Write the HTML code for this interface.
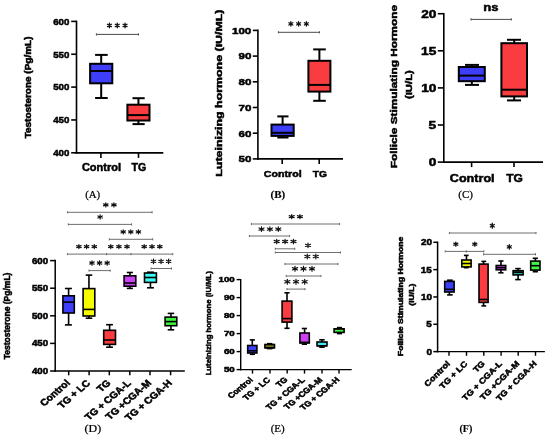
<!DOCTYPE html>
<html><head><meta charset="utf-8"><style>
html,body{margin:0;padding:0;background:#fff;}
body{width:550px;height:439px;overflow:hidden;}
svg{display:block;will-change:transform;filter:blur(0.3px);}
text{fill:#000;stroke:#000;}
.sb{stroke-width:0.5px;}
.fr{stroke-width:0.22px;}
.fb{stroke-width:0.15px;}
</style></head><body>
<svg width="550" height="439" viewBox="0 0 550 439">
<rect width="550" height="439" fill="#fff"/>
<line x1="76.5" y1="20.6" x2="76.5" y2="153.7" stroke="#000" stroke-width="1.6" stroke-linecap="butt"/>
<line x1="71.2" y1="21.4" x2="76.5" y2="21.4" stroke="#000" stroke-width="1.6" stroke-linecap="butt"/>
<line x1="71.2" y1="54.25" x2="76.5" y2="54.25" stroke="#000" stroke-width="1.6" stroke-linecap="butt"/>
<line x1="71.2" y1="87.1" x2="76.5" y2="87.1" stroke="#000" stroke-width="1.6" stroke-linecap="butt"/>
<line x1="71.2" y1="119.95" x2="76.5" y2="119.95" stroke="#000" stroke-width="1.6" stroke-linecap="butt"/>
<line x1="71.2" y1="152.8" x2="76.5" y2="152.8" stroke="#000" stroke-width="1.6" stroke-linecap="butt"/>
<line x1="75.7" y1="152.9" x2="163.3" y2="152.9" stroke="#000" stroke-width="1.6" stroke-linecap="butt"/>
<line x1="100.9" y1="152.9" x2="100.9" y2="157.9" stroke="#000" stroke-width="1.6" stroke-linecap="butt"/>
<line x1="138.5" y1="152.9" x2="138.5" y2="157.9" stroke="#000" stroke-width="1.6" stroke-linecap="butt"/>
<text class="sb" transform="translate(53.2 24.65) scale(1.0205 1)" font-family="Liberation Sans" font-weight="bold" font-size="9.54">600</text>
<text class="sb" transform="translate(53.2 57.5) scale(1.0205 1)" font-family="Liberation Sans" font-weight="bold" font-size="9.54">550</text>
<text class="sb" transform="translate(53.2 90.35) scale(1.0205 1)" font-family="Liberation Sans" font-weight="bold" font-size="9.54">500</text>
<text class="sb" transform="translate(53.2 123.2) scale(1.0205 1)" font-family="Liberation Sans" font-weight="bold" font-size="9.54">450</text>
<text class="sb" transform="translate(53.2 156.05) scale(1.0205 1)" font-family="Liberation Sans" font-weight="bold" font-size="9.54">400</text>
<line x1="101.2" y1="54.9" x2="101.2" y2="63.8" stroke="#000" stroke-width="2" stroke-linecap="butt"/>
<line x1="101.2" y1="83.3" x2="101.2" y2="98" stroke="#000" stroke-width="2" stroke-linecap="butt"/>
<line x1="95.1" y1="54.9" x2="107.7" y2="54.9" stroke="#000" stroke-width="2" stroke-linecap="butt"/>
<line x1="95.1" y1="98" x2="107.7" y2="98" stroke="#000" stroke-width="2" stroke-linecap="butt"/>
<rect x="90.1" y="63.8" width="22.2" height="19.5" fill="#3e3ef8" stroke="#000" stroke-width="2"/>
<line x1="90.1" y1="71" x2="112.3" y2="71" stroke="#000" stroke-width="2" stroke-linecap="butt"/>
<line x1="138.45" y1="98.2" x2="138.45" y2="104.7" stroke="#000" stroke-width="2" stroke-linecap="butt"/>
<line x1="138.45" y1="120.5" x2="138.45" y2="124.1" stroke="#000" stroke-width="2" stroke-linecap="butt"/>
<line x1="132.5" y1="98.2" x2="144.7" y2="98.2" stroke="#000" stroke-width="2" stroke-linecap="butt"/>
<line x1="132.5" y1="124.1" x2="144.7" y2="124.1" stroke="#000" stroke-width="2" stroke-linecap="butt"/>
<rect x="127.4" y="104.7" width="22.1" height="15.8" fill="#f83c40" stroke="#000" stroke-width="2"/>
<line x1="127.4" y1="115.1" x2="149.5" y2="115.1" stroke="#000" stroke-width="2" stroke-linecap="butt"/>
<text class="sb" transform="translate(81.91 170.65) scale(1.0505 1)" font-family="Liberation Sans" font-weight="bold" font-size="10.47">Control</text>
<text class="sb" transform="translate(131.44 170.65) scale(1.0166 1)" font-family="Liberation Sans" font-weight="bold" font-size="10.47">TG</text>
<line x1="96.4" y1="34.4" x2="138.5" y2="34.4" stroke="#4a4a4a" stroke-width="1" stroke-linecap="butt"/>
<line x1="96.4" y1="33.3" x2="96.4" y2="35.5" stroke="#4a4a4a" stroke-width="1" stroke-linecap="butt"/>
<line x1="138.5" y1="33.3" x2="138.5" y2="35.5" stroke="#4a4a4a" stroke-width="1" stroke-linecap="butt"/>
<path d="M109.45 23.05V27.75M107.45 24.22L111.45 26.57M107.45 26.57L111.45 24.22" stroke="#111" stroke-width="1.3" stroke-linecap="round" fill="none"/>
<path d="M117.25 23.05V27.75M115.25 24.22L119.25 26.57M115.25 26.57L119.25 24.22" stroke="#111" stroke-width="1.3" stroke-linecap="round" fill="none"/>
<path d="M125.05 23.05V27.75M123.05 24.22L127.05 26.57M123.05 26.57L127.05 24.22" stroke="#111" stroke-width="1.3" stroke-linecap="round" fill="none"/>
<text class="sb" transform="translate(31.05 138.35) rotate(-90) scale(1.2259 1)" font-family="Liberation Sans" font-weight="bold" font-size="8.15">Testosterone (Pg/mL)</text>
<text class="fr" transform="translate(85.16 197.65) scale(1.0149 1)" font-family="Liberation Serif" font-weight="normal" font-size="10.69">(A)</text>
<line x1="257.9" y1="29.6" x2="257.9" y2="159.7" stroke="#000" stroke-width="1.6" stroke-linecap="butt"/>
<line x1="252.8" y1="30.4" x2="257.9" y2="30.4" stroke="#000" stroke-width="1.6" stroke-linecap="butt"/>
<line x1="252.8" y1="56.1" x2="257.9" y2="56.1" stroke="#000" stroke-width="1.6" stroke-linecap="butt"/>
<line x1="252.8" y1="81.8" x2="257.9" y2="81.8" stroke="#000" stroke-width="1.6" stroke-linecap="butt"/>
<line x1="252.8" y1="107.5" x2="257.9" y2="107.5" stroke="#000" stroke-width="1.6" stroke-linecap="butt"/>
<line x1="252.8" y1="133.2" x2="257.9" y2="133.2" stroke="#000" stroke-width="1.6" stroke-linecap="butt"/>
<line x1="252.8" y1="158.9" x2="257.9" y2="158.9" stroke="#000" stroke-width="1.6" stroke-linecap="butt"/>
<line x1="257.1" y1="158.9" x2="343" y2="158.9" stroke="#000" stroke-width="1.6" stroke-linecap="butt"/>
<line x1="282.2" y1="158.9" x2="282.2" y2="163.9" stroke="#000" stroke-width="1.6" stroke-linecap="butt"/>
<line x1="319.2" y1="158.9" x2="319.2" y2="163.9" stroke="#000" stroke-width="1.6" stroke-linecap="butt"/>
<text class="sb" transform="translate(231.98 33.75) scale(1.1888 1)" font-family="Liberation Sans" font-weight="bold" font-size="9.75">100</text>
<text class="sb" transform="translate(238.44 59.45) scale(1.1888 1)" font-family="Liberation Sans" font-weight="bold" font-size="9.75">90</text>
<text class="sb" transform="translate(238.44 85.15) scale(1.1888 1)" font-family="Liberation Sans" font-weight="bold" font-size="9.75">80</text>
<text class="sb" transform="translate(238.44 110.85) scale(1.1888 1)" font-family="Liberation Sans" font-weight="bold" font-size="9.75">70</text>
<text class="sb" transform="translate(238.44 136.55) scale(1.1888 1)" font-family="Liberation Sans" font-weight="bold" font-size="9.75">60</text>
<text class="sb" transform="translate(238.44 162.25) scale(1.1888 1)" font-family="Liberation Sans" font-weight="bold" font-size="9.75">50</text>
<line x1="282.6" y1="116.4" x2="282.6" y2="124.6" stroke="#000" stroke-width="2" stroke-linecap="butt"/>
<line x1="282.6" y1="135.9" x2="282.6" y2="137.5" stroke="#000" stroke-width="2" stroke-linecap="butt"/>
<line x1="277.3" y1="116.4" x2="288.5" y2="116.4" stroke="#000" stroke-width="2" stroke-linecap="butt"/>
<line x1="277.3" y1="137.5" x2="288.5" y2="137.5" stroke="#000" stroke-width="2" stroke-linecap="butt"/>
<rect x="271.5" y="124.6" width="22.2" height="11.3" fill="#3e3ef8" stroke="#000" stroke-width="2"/>
<line x1="271.5" y1="132.8" x2="293.7" y2="132.8" stroke="#000" stroke-width="2" stroke-linecap="butt"/>
<line x1="319.4" y1="49.4" x2="319.4" y2="60.8" stroke="#000" stroke-width="2" stroke-linecap="butt"/>
<line x1="319.4" y1="91.6" x2="319.4" y2="100.8" stroke="#000" stroke-width="2" stroke-linecap="butt"/>
<line x1="313.2" y1="49.4" x2="325.8" y2="49.4" stroke="#000" stroke-width="2" stroke-linecap="butt"/>
<line x1="313.2" y1="100.8" x2="325.8" y2="100.8" stroke="#000" stroke-width="2" stroke-linecap="butt"/>
<rect x="308.4" y="60.8" width="22" height="30.8" fill="#f83c40" stroke="#000" stroke-width="2"/>
<line x1="308.4" y1="84.9" x2="330.4" y2="84.9" stroke="#000" stroke-width="2" stroke-linecap="butt"/>
<text class="sb" transform="translate(263.82 176.85) scale(1.0800 1)" font-family="Liberation Sans" font-weight="bold" font-size="9.89">Control</text>
<text class="sb" transform="translate(312.75 176.85) scale(1.0456 1)" font-family="Liberation Sans" font-weight="bold" font-size="9.89">TG</text>
<line x1="278.4" y1="32.3" x2="319.4" y2="32.3" stroke="#4a4a4a" stroke-width="1" stroke-linecap="butt"/>
<line x1="278.4" y1="31.2" x2="278.4" y2="33.4" stroke="#4a4a4a" stroke-width="1" stroke-linecap="butt"/>
<line x1="319.4" y1="31.2" x2="319.4" y2="33.4" stroke="#4a4a4a" stroke-width="1" stroke-linecap="butt"/>
<path d="M290.85 21.65V26.05M288.85 22.75L292.85 24.95M288.85 24.95L292.85 22.75" stroke="#111" stroke-width="1.3" stroke-linecap="round" fill="none"/>
<path d="M298.6 21.65V26.05M296.6 22.75L300.6 24.95M296.6 24.95L300.6 22.75" stroke="#111" stroke-width="1.3" stroke-linecap="round" fill="none"/>
<path d="M306.35 21.65V26.05M304.35 22.75L308.35 24.95M304.35 24.95L308.35 22.75" stroke="#111" stroke-width="1.3" stroke-linecap="round" fill="none"/>
<text class="sb" transform="translate(222.25 176.69) rotate(-90) scale(1.3749 1)" font-family="Liberation Sans" font-weight="bold" font-size="9.02">Luteinizing hormone (IU/ML)</text>
<text class="fb" transform="translate(270.55 197.55) scale(1.0758 1)" font-family="Liberation Serif" font-weight="bold" font-size="10.23">(B)</text>
<line x1="443.8" y1="12.9" x2="443.8" y2="162.9" stroke="#000" stroke-width="1.6" stroke-linecap="butt"/>
<line x1="437.8" y1="13.7" x2="443.8" y2="13.7" stroke="#000" stroke-width="1.6" stroke-linecap="butt"/>
<line x1="437.8" y1="50.8" x2="443.8" y2="50.8" stroke="#000" stroke-width="1.6" stroke-linecap="butt"/>
<line x1="437.8" y1="87.9" x2="443.8" y2="87.9" stroke="#000" stroke-width="1.6" stroke-linecap="butt"/>
<line x1="437.8" y1="125" x2="443.8" y2="125" stroke="#000" stroke-width="1.6" stroke-linecap="butt"/>
<line x1="437.8" y1="162.1" x2="443.8" y2="162.1" stroke="#000" stroke-width="1.6" stroke-linecap="butt"/>
<line x1="443" y1="162.1" x2="543" y2="162.1" stroke="#000" stroke-width="1.6" stroke-linecap="butt"/>
<line x1="471.6" y1="162.1" x2="471.6" y2="167.1" stroke="#000" stroke-width="1.6" stroke-linecap="butt"/>
<line x1="514" y1="162.1" x2="514" y2="167.1" stroke="#000" stroke-width="1.6" stroke-linecap="butt"/>
<text class="sb" transform="translate(421.19 17.74) scale(1.2921 1)" font-family="Liberation Sans" font-weight="bold" font-size="10.6">20</text>
<text class="sb" transform="translate(421.02 54.84) scale(1.2921 1)" font-family="Liberation Sans" font-weight="bold" font-size="10.6">15</text>
<text class="sb" transform="translate(421.19 91.94) scale(1.2921 1)" font-family="Liberation Sans" font-weight="bold" font-size="10.6">10</text>
<text class="sb" transform="translate(428.62 129.04) scale(1.2921 1)" font-family="Liberation Sans" font-weight="bold" font-size="10.6">5</text>
<text class="sb" transform="translate(428.8 166.14) scale(1.2921 1)" font-family="Liberation Sans" font-weight="bold" font-size="10.6">0</text>
<line x1="471.8" y1="64.9" x2="471.8" y2="67" stroke="#000" stroke-width="2" stroke-linecap="butt"/>
<line x1="471.8" y1="81.2" x2="471.8" y2="84.9" stroke="#000" stroke-width="2" stroke-linecap="butt"/>
<line x1="465" y1="64.9" x2="479" y2="64.9" stroke="#000" stroke-width="2" stroke-linecap="butt"/>
<line x1="465" y1="84.9" x2="479" y2="84.9" stroke="#000" stroke-width="2" stroke-linecap="butt"/>
<rect x="458.8" y="67" width="26" height="14.2" fill="#3e3ef8" stroke="#000" stroke-width="2"/>
<line x1="458.8" y1="75.6" x2="484.8" y2="75.6" stroke="#000" stroke-width="2" stroke-linecap="butt"/>
<line x1="514.2" y1="39.8" x2="514.2" y2="43.2" stroke="#000" stroke-width="2" stroke-linecap="butt"/>
<line x1="514.2" y1="96.4" x2="514.2" y2="100.4" stroke="#000" stroke-width="2" stroke-linecap="butt"/>
<line x1="507" y1="39.8" x2="521" y2="39.8" stroke="#000" stroke-width="2" stroke-linecap="butt"/>
<line x1="507" y1="100.4" x2="521" y2="100.4" stroke="#000" stroke-width="2" stroke-linecap="butt"/>
<rect x="501.4" y="43.2" width="25.6" height="53.2" fill="#f83c40" stroke="#000" stroke-width="2"/>
<line x1="501.4" y1="89.7" x2="527" y2="89.7" stroke="#000" stroke-width="2" stroke-linecap="butt"/>
<text class="sb" transform="translate(449.85 181.85) scale(1.1548 1)" font-family="Liberation Sans" font-weight="bold" font-size="10.91">Control</text>
<text class="sb" transform="translate(506.13 181.85) scale(1.1014 1)" font-family="Liberation Sans" font-weight="bold" font-size="10.91">TG</text>
<line x1="471" y1="19.4" x2="511.3" y2="19.4" stroke="#4a4a4a" stroke-width="1" stroke-linecap="butt"/>
<line x1="471" y1="18.3" x2="471" y2="20.5" stroke="#4a4a4a" stroke-width="1" stroke-linecap="butt"/>
<line x1="511.3" y1="18.3" x2="511.3" y2="20.5" stroke="#4a4a4a" stroke-width="1" stroke-linecap="butt"/>
<text class="sb" transform="translate(483.3 10.73) scale(1.1218 1)" font-family="Liberation Sans" font-weight="bold" font-size="11.69">ns</text>
<text class="sb" transform="translate(396.65 168.25) rotate(-90) scale(1.2498 1)" font-family="Liberation Sans" font-weight="bold" font-size="9.45">Follicle Stimulating Hormone</text>
<text class="sb" transform="translate(411.65 99.01) rotate(-90) scale(1.2511 1)" font-family="Liberation Sans" font-weight="bold" font-size="9.02">(IU/L)</text>
<text class="fr" transform="translate(458.25 197.55) scale(1.0446 1)" font-family="Liberation Serif" font-weight="normal" font-size="10.53">(C)</text>
<line x1="55.2" y1="259.85" x2="55.2" y2="371.65" stroke="#000" stroke-width="1.5" stroke-linecap="butt"/>
<line x1="50.1" y1="260.6" x2="55.2" y2="260.6" stroke="#000" stroke-width="1.5" stroke-linecap="butt"/>
<line x1="50.1" y1="288.2" x2="55.2" y2="288.2" stroke="#000" stroke-width="1.5" stroke-linecap="butt"/>
<line x1="50.1" y1="315.8" x2="55.2" y2="315.8" stroke="#000" stroke-width="1.5" stroke-linecap="butt"/>
<line x1="50.1" y1="343.4" x2="55.2" y2="343.4" stroke="#000" stroke-width="1.5" stroke-linecap="butt"/>
<line x1="50.1" y1="371" x2="55.2" y2="371" stroke="#000" stroke-width="1.5" stroke-linecap="butt"/>
<line x1="54.45" y1="370.9" x2="184.8" y2="370.9" stroke="#000" stroke-width="1.5" stroke-linecap="butt"/>
<line x1="68.7" y1="370.9" x2="68.7" y2="375.3" stroke="#000" stroke-width="1.5" stroke-linecap="butt"/>
<line x1="89.1" y1="370.9" x2="89.1" y2="375.3" stroke="#000" stroke-width="1.5" stroke-linecap="butt"/>
<line x1="109.3" y1="370.9" x2="109.3" y2="375.3" stroke="#000" stroke-width="1.5" stroke-linecap="butt"/>
<line x1="129.8" y1="370.9" x2="129.8" y2="375.3" stroke="#000" stroke-width="1.5" stroke-linecap="butt"/>
<line x1="150" y1="370.9" x2="150" y2="375.3" stroke="#000" stroke-width="1.5" stroke-linecap="butt"/>
<line x1="170.6" y1="370.9" x2="170.6" y2="375.3" stroke="#000" stroke-width="1.5" stroke-linecap="butt"/>
<text class="sb" transform="translate(31.96 263.67) scale(1.1441 1)" font-family="Liberation Sans" font-weight="bold" font-size="8.48">600</text>
<text class="sb" transform="translate(31.96 291.27) scale(1.1441 1)" font-family="Liberation Sans" font-weight="bold" font-size="8.48">550</text>
<text class="sb" transform="translate(31.96 318.87) scale(1.1441 1)" font-family="Liberation Sans" font-weight="bold" font-size="8.48">500</text>
<text class="sb" transform="translate(31.96 346.47) scale(1.1441 1)" font-family="Liberation Sans" font-weight="bold" font-size="8.48">450</text>
<text class="sb" transform="translate(31.96 374.07) scale(1.1441 1)" font-family="Liberation Sans" font-weight="bold" font-size="8.48">400</text>
<line x1="68.6" y1="288.5" x2="68.6" y2="295.8" stroke="#000" stroke-width="1.6" stroke-linecap="butt"/>
<line x1="68.6" y1="313" x2="68.6" y2="324.9" stroke="#000" stroke-width="1.6" stroke-linecap="butt"/>
<line x1="64.9" y1="288.5" x2="71.9" y2="288.5" stroke="#000" stroke-width="1.6" stroke-linecap="butt"/>
<line x1="64.9" y1="324.9" x2="71.9" y2="324.9" stroke="#000" stroke-width="1.6" stroke-linecap="butt"/>
<rect x="62.9" y="295.8" width="11.4" height="17.2" fill="#3e3ef8" stroke="#000" stroke-width="1.6"/>
<line x1="62.9" y1="302.1" x2="74.3" y2="302.1" stroke="#000" stroke-width="1.6" stroke-linecap="butt"/>
<line x1="88.95" y1="275.1" x2="88.95" y2="288.6" stroke="#000" stroke-width="1.6" stroke-linecap="butt"/>
<line x1="88.95" y1="316" x2="88.95" y2="318.2" stroke="#000" stroke-width="1.6" stroke-linecap="butt"/>
<line x1="85.7" y1="275.1" x2="92.3" y2="275.1" stroke="#000" stroke-width="1.6" stroke-linecap="butt"/>
<line x1="85.7" y1="318.2" x2="92.3" y2="318.2" stroke="#000" stroke-width="1.6" stroke-linecap="butt"/>
<rect x="83.1" y="288.6" width="11.7" height="27.4" fill="#f6fc00" stroke="#000" stroke-width="1.6"/>
<line x1="83.1" y1="309.4" x2="94.8" y2="309.4" stroke="#000" stroke-width="1.6" stroke-linecap="butt"/>
<line x1="109.6" y1="324.7" x2="109.6" y2="330.3" stroke="#000" stroke-width="1.6" stroke-linecap="butt"/>
<line x1="109.6" y1="344.4" x2="109.6" y2="347.2" stroke="#000" stroke-width="1.6" stroke-linecap="butt"/>
<line x1="106.1" y1="324.7" x2="112.9" y2="324.7" stroke="#000" stroke-width="1.6" stroke-linecap="butt"/>
<line x1="106.1" y1="347.2" x2="112.9" y2="347.2" stroke="#000" stroke-width="1.6" stroke-linecap="butt"/>
<rect x="103.7" y="330.3" width="11.8" height="14.1" fill="#f83c40" stroke="#000" stroke-width="1.6"/>
<line x1="103.7" y1="340" x2="115.5" y2="340" stroke="#000" stroke-width="1.6" stroke-linecap="butt"/>
<line x1="129.95" y1="272.5" x2="129.95" y2="275.8" stroke="#000" stroke-width="1.6" stroke-linecap="butt"/>
<line x1="129.95" y1="286.2" x2="129.95" y2="288.4" stroke="#000" stroke-width="1.6" stroke-linecap="butt"/>
<line x1="126.8" y1="272.5" x2="132.9" y2="272.5" stroke="#000" stroke-width="1.6" stroke-linecap="butt"/>
<line x1="126.8" y1="288.4" x2="132.9" y2="288.4" stroke="#000" stroke-width="1.6" stroke-linecap="butt"/>
<rect x="124.1" y="275.8" width="11.7" height="10.4" fill="#cc42f2" stroke="#000" stroke-width="1.6"/>
<line x1="124.1" y1="283" x2="135.8" y2="283" stroke="#000" stroke-width="1.6" stroke-linecap="butt"/>
<line x1="150.45" y1="282.4" x2="150.45" y2="287.8" stroke="#000" stroke-width="1.6" stroke-linecap="butt"/>
<line x1="147" y1="272.2" x2="153.9" y2="272.2" stroke="#000" stroke-width="1.6" stroke-linecap="butt"/>
<line x1="147" y1="287.8" x2="153.9" y2="287.8" stroke="#000" stroke-width="1.6" stroke-linecap="butt"/>
<rect x="144.5" y="273" width="11.9" height="9.4" fill="#40fcf6" stroke="#000" stroke-width="1.6"/>
<line x1="144.5" y1="277.5" x2="156.4" y2="277.5" stroke="#000" stroke-width="1.6" stroke-linecap="butt"/>
<line x1="170.95" y1="313.4" x2="170.95" y2="317.1" stroke="#000" stroke-width="1.6" stroke-linecap="butt"/>
<line x1="170.95" y1="325.7" x2="170.95" y2="329.8" stroke="#000" stroke-width="1.6" stroke-linecap="butt"/>
<line x1="167.7" y1="313.4" x2="174.2" y2="313.4" stroke="#000" stroke-width="1.6" stroke-linecap="butt"/>
<line x1="167.7" y1="329.8" x2="174.2" y2="329.8" stroke="#000" stroke-width="1.6" stroke-linecap="butt"/>
<rect x="165.1" y="317.1" width="11.7" height="8.6" fill="#40f440" stroke="#000" stroke-width="1.6"/>
<line x1="165.1" y1="321.6" x2="176.8" y2="321.6" stroke="#000" stroke-width="1.6" stroke-linecap="butt"/>
<line x1="67.6" y1="212.3" x2="152.1" y2="212.3" stroke="#5e5e5e" stroke-width="0.9" stroke-linecap="butt"/>
<line x1="67.6" y1="211.2" x2="67.6" y2="213.4" stroke="#5e5e5e" stroke-width="0.9" stroke-linecap="butt"/>
<line x1="152.1" y1="211.2" x2="152.1" y2="213.4" stroke="#5e5e5e" stroke-width="0.9" stroke-linecap="butt"/>
<path d="M105.8 202.9V206.9M103.6 203.9L108 205.9M103.6 205.9L108 203.9" stroke="#111" stroke-width="1.2" stroke-linecap="round" fill="none"/>
<path d="M113.9 202.9V206.9M111.7 203.9L116.1 205.9M111.7 205.9L116.1 203.9" stroke="#111" stroke-width="1.2" stroke-linecap="round" fill="none"/>
<line x1="68.3" y1="224.4" x2="131.6" y2="224.4" stroke="#5e5e5e" stroke-width="0.9" stroke-linecap="butt"/>
<line x1="68.3" y1="223.3" x2="68.3" y2="225.5" stroke="#5e5e5e" stroke-width="0.9" stroke-linecap="butt"/>
<line x1="131.6" y1="223.3" x2="131.6" y2="225.5" stroke="#5e5e5e" stroke-width="0.9" stroke-linecap="butt"/>
<path d="M100.15 214.9V219.1M97.95 215.95L102.35 218.05M97.95 218.05L102.35 215.95" stroke="#111" stroke-width="1.2" stroke-linecap="round" fill="none"/>
<line x1="109.3" y1="239.3" x2="152.7" y2="239.3" stroke="#5e5e5e" stroke-width="0.9" stroke-linecap="butt"/>
<line x1="109.3" y1="238.2" x2="109.3" y2="240.4" stroke="#5e5e5e" stroke-width="0.9" stroke-linecap="butt"/>
<line x1="152.7" y1="238.2" x2="152.7" y2="240.4" stroke="#5e5e5e" stroke-width="0.9" stroke-linecap="butt"/>
<path d="M123.2 229.8V234M121 230.85L125.4 232.95M121 232.95L125.4 230.85" stroke="#111" stroke-width="1.2" stroke-linecap="round" fill="none"/>
<path d="M130.8 229.8V234M128.6 230.85L133 232.95M128.6 232.95L133 230.85" stroke="#111" stroke-width="1.2" stroke-linecap="round" fill="none"/>
<path d="M138.4 229.8V234M136.2 230.85L140.6 232.95M136.2 232.95L140.6 230.85" stroke="#111" stroke-width="1.2" stroke-linecap="round" fill="none"/>
<line x1="67.4" y1="254.1" x2="172.8" y2="254.1" stroke="#5e5e5e" stroke-width="0.9" stroke-linecap="butt"/>
<line x1="67.4" y1="253" x2="67.4" y2="255.2" stroke="#5e5e5e" stroke-width="0.9" stroke-linecap="butt"/>
<line x1="172.8" y1="253" x2="172.8" y2="255.2" stroke="#5e5e5e" stroke-width="0.9" stroke-linecap="butt"/>
<line x1="106.6" y1="253" x2="106.6" y2="255.2" stroke="#5e5e5e" stroke-width="0.9" stroke-linecap="butt"/>
<line x1="130.9" y1="253" x2="130.9" y2="255.2" stroke="#5e5e5e" stroke-width="0.9" stroke-linecap="butt"/>
<path d="M78.9 244.6V248.6M76.7 245.6L81.1 247.6M76.7 247.6L81.1 245.6" stroke="#111" stroke-width="1.2" stroke-linecap="round" fill="none"/>
<path d="M86.6 244.6V248.6M84.4 245.6L88.8 247.6M84.4 247.6L88.8 245.6" stroke="#111" stroke-width="1.2" stroke-linecap="round" fill="none"/>
<path d="M94.3 244.6V248.6M92.1 245.6L96.5 247.6M92.1 247.6L96.5 245.6" stroke="#111" stroke-width="1.2" stroke-linecap="round" fill="none"/>
<path d="M110.8 244.6V248.6M108.6 245.6L113 247.6M108.6 247.6L113 245.6" stroke="#111" stroke-width="1.2" stroke-linecap="round" fill="none"/>
<path d="M118.9 244.6V248.6M116.7 245.6L121.1 247.6M116.7 247.6L121.1 245.6" stroke="#111" stroke-width="1.2" stroke-linecap="round" fill="none"/>
<path d="M127 244.6V248.6M124.8 245.6L129.2 247.6M124.8 247.6L129.2 245.6" stroke="#111" stroke-width="1.2" stroke-linecap="round" fill="none"/>
<path d="M144.2 244.6V248.6M142 245.6L146.4 247.6M142 247.6L146.4 245.6" stroke="#111" stroke-width="1.2" stroke-linecap="round" fill="none"/>
<path d="M152 244.6V248.6M149.8 245.6L154.2 247.6M149.8 247.6L154.2 245.6" stroke="#111" stroke-width="1.2" stroke-linecap="round" fill="none"/>
<path d="M159.8 244.6V248.6M157.6 245.6L162 247.6M157.6 247.6L162 245.6" stroke="#111" stroke-width="1.2" stroke-linecap="round" fill="none"/>
<line x1="89" y1="270.6" x2="110.2" y2="270.6" stroke="#5e5e5e" stroke-width="0.9" stroke-linecap="butt"/>
<line x1="89" y1="269.5" x2="89" y2="271.7" stroke="#5e5e5e" stroke-width="0.9" stroke-linecap="butt"/>
<line x1="110.2" y1="269.5" x2="110.2" y2="271.7" stroke="#5e5e5e" stroke-width="0.9" stroke-linecap="butt"/>
<path d="M92 260.8V265.2M89.8 261.9L94.2 264.1M89.8 264.1L94.2 261.9" stroke="#111" stroke-width="1.2" stroke-linecap="round" fill="none"/>
<path d="M99.6 260.8V265.2M97.4 261.9L101.8 264.1M97.4 264.1L101.8 261.9" stroke="#111" stroke-width="1.2" stroke-linecap="round" fill="none"/>
<path d="M107.2 260.8V265.2M105 261.9L109.4 264.1M105 264.1L109.4 261.9" stroke="#111" stroke-width="1.2" stroke-linecap="round" fill="none"/>
<line x1="151.1" y1="268.5" x2="171.5" y2="268.5" stroke="#5e5e5e" stroke-width="0.9" stroke-linecap="butt"/>
<line x1="151.1" y1="267.4" x2="151.1" y2="269.6" stroke="#5e5e5e" stroke-width="0.9" stroke-linecap="butt"/>
<line x1="171.5" y1="267.4" x2="171.5" y2="269.6" stroke="#5e5e5e" stroke-width="0.9" stroke-linecap="butt"/>
<path d="M153.5 259.1V263.6M151.3 260.23L155.7 262.48M151.3 262.48L155.7 260.23" stroke="#111" stroke-width="1.2" stroke-linecap="round" fill="none"/>
<path d="M161.05 259.1V263.6M158.85 260.23L163.25 262.48M158.85 262.48L163.25 260.23" stroke="#111" stroke-width="1.2" stroke-linecap="round" fill="none"/>
<path d="M168.6 259.1V263.6M166.4 260.23L170.8 262.48M166.4 262.48L170.8 260.23" stroke="#111" stroke-width="1.2" stroke-linecap="round" fill="none"/>
<text class="sb" transform="translate(10.05 359.33) rotate(-90) scale(1.0072 1)" font-family="Liberation Sans" font-weight="bold" font-size="8.44">Testosterone (Pg/mL)</text>
<text class="sb" transform="translate(70.2 384) scale(1.1500 1) rotate(-45) scale(1.0000 1) translate(-32.06 0)" font-family="Liberation Sans" font-weight="bold" font-size="9.2">Control</text>
<text class="sb" transform="translate(90.6 384) scale(1.1500 1) rotate(-45) scale(1.0000 1) translate(-35.28 0)" font-family="Liberation Sans" font-weight="bold" font-size="9.2">TG + LC</text>
<text class="sb" transform="translate(110.8 384) scale(1.1500 1) rotate(-45) scale(1.0000 1) translate(-12.19 0)" font-family="Liberation Sans" font-weight="bold" font-size="9.2">TG</text>
<text class="sb" transform="translate(131.3 384) scale(1.1500 1) rotate(-45) scale(1.0000 1) translate(-52.09 0)" font-family="Liberation Sans" font-weight="bold" font-size="9.2">TG + CGA-L</text>
<text class="sb" transform="translate(151.5 384) scale(1.1500 1) rotate(-45) scale(1.0000 1) translate(-51.24 0)" font-family="Liberation Sans" font-weight="bold" font-size="9.2">TG +CGA-M</text>
<text class="sb" transform="translate(172.1 384) scale(1.1500 1) rotate(-45) scale(1.0000 1) translate(-52.78 0)" font-family="Liberation Sans" font-weight="bold" font-size="9.2">TG + CGA-H</text>
<text class="fr" transform="translate(84.61 432.45) scale(1.1833 1)" font-family="Liberation Serif" font-weight="normal" font-size="10.08">(D)</text>
<line x1="240.7" y1="278.9" x2="240.7" y2="370.3" stroke="#000" stroke-width="1.4" stroke-linecap="butt"/>
<line x1="236.6" y1="279.6" x2="240.7" y2="279.6" stroke="#000" stroke-width="1.4" stroke-linecap="butt"/>
<line x1="236.6" y1="297.6" x2="240.7" y2="297.6" stroke="#000" stroke-width="1.4" stroke-linecap="butt"/>
<line x1="236.6" y1="315.6" x2="240.7" y2="315.6" stroke="#000" stroke-width="1.4" stroke-linecap="butt"/>
<line x1="236.6" y1="333.6" x2="240.7" y2="333.6" stroke="#000" stroke-width="1.4" stroke-linecap="butt"/>
<line x1="236.6" y1="351.6" x2="240.7" y2="351.6" stroke="#000" stroke-width="1.4" stroke-linecap="butt"/>
<line x1="236.6" y1="369.6" x2="240.7" y2="369.6" stroke="#000" stroke-width="1.4" stroke-linecap="butt"/>
<line x1="240" y1="369.6" x2="351.7" y2="369.6" stroke="#000" stroke-width="1.4" stroke-linecap="butt"/>
<line x1="252.5" y1="369.6" x2="252.5" y2="373.6" stroke="#000" stroke-width="1.4" stroke-linecap="butt"/>
<line x1="270" y1="369.6" x2="270" y2="373.6" stroke="#000" stroke-width="1.4" stroke-linecap="butt"/>
<line x1="287.2" y1="369.6" x2="287.2" y2="373.6" stroke="#000" stroke-width="1.4" stroke-linecap="butt"/>
<line x1="304.5" y1="369.6" x2="304.5" y2="373.6" stroke="#000" stroke-width="1.4" stroke-linecap="butt"/>
<line x1="322" y1="369.6" x2="322" y2="373.6" stroke="#000" stroke-width="1.4" stroke-linecap="butt"/>
<line x1="339" y1="369.6" x2="339" y2="373.6" stroke="#000" stroke-width="1.4" stroke-linecap="butt"/>
<text class="sb" transform="translate(218.54 282.48) scale(1.3474 1)" font-family="Liberation Sans" font-weight="bold" font-size="7.21">100</text>
<text class="sb" transform="translate(223.96 300.48) scale(1.3474 1)" font-family="Liberation Sans" font-weight="bold" font-size="7.21">90</text>
<text class="sb" transform="translate(223.96 318.48) scale(1.3474 1)" font-family="Liberation Sans" font-weight="bold" font-size="7.21">80</text>
<text class="sb" transform="translate(223.96 336.48) scale(1.3474 1)" font-family="Liberation Sans" font-weight="bold" font-size="7.21">70</text>
<text class="sb" transform="translate(223.96 354.48) scale(1.3474 1)" font-family="Liberation Sans" font-weight="bold" font-size="7.21">60</text>
<text class="sb" transform="translate(223.96 372.48) scale(1.3474 1)" font-family="Liberation Sans" font-weight="bold" font-size="7.21">50</text>
<line x1="252.3" y1="339.9" x2="252.3" y2="345.5" stroke="#000" stroke-width="1.6" stroke-linecap="butt"/>
<line x1="252.3" y1="353" x2="252.3" y2="354.3" stroke="#000" stroke-width="1.6" stroke-linecap="butt"/>
<line x1="249.8" y1="339.9" x2="254.9" y2="339.9" stroke="#000" stroke-width="1.6" stroke-linecap="butt"/>
<line x1="249.8" y1="354.3" x2="254.9" y2="354.3" stroke="#000" stroke-width="1.6" stroke-linecap="butt"/>
<rect x="247.7" y="345.5" width="9.2" height="7.5" fill="#3e3ef8" stroke="#000" stroke-width="1.6"/>
<line x1="247.7" y1="350.8" x2="256.9" y2="350.8" stroke="#000" stroke-width="1.6" stroke-linecap="butt"/>
<line x1="267" y1="343.7" x2="272.4" y2="343.7" stroke="#000" stroke-width="1.6" stroke-linecap="butt"/>
<line x1="267" y1="348.6" x2="272.4" y2="348.6" stroke="#000" stroke-width="1.6" stroke-linecap="butt"/>
<rect x="264.9" y="344.5" width="9.6" height="3.3" fill="#76761e" stroke="#000" stroke-width="1.6"/>
<line x1="264.9" y1="347.8" x2="274.5" y2="347.8" stroke="#000" stroke-width="1.6" stroke-linecap="butt"/>
<line x1="287" y1="292.8" x2="287" y2="301.1" stroke="#000" stroke-width="1.6" stroke-linecap="butt"/>
<line x1="287" y1="322.1" x2="287" y2="328.3" stroke="#000" stroke-width="1.6" stroke-linecap="butt"/>
<line x1="284.4" y1="292.8" x2="289.6" y2="292.8" stroke="#000" stroke-width="1.6" stroke-linecap="butt"/>
<line x1="284.4" y1="328.3" x2="289.6" y2="328.3" stroke="#000" stroke-width="1.6" stroke-linecap="butt"/>
<rect x="282.1" y="301.1" width="9.8" height="21" fill="#f83c40" stroke="#000" stroke-width="1.6"/>
<line x1="282.1" y1="318.6" x2="291.9" y2="318.6" stroke="#000" stroke-width="1.6" stroke-linecap="butt"/>
<line x1="304.6" y1="328.5" x2="304.6" y2="333" stroke="#000" stroke-width="1.6" stroke-linecap="butt"/>
<line x1="304.6" y1="343" x2="304.6" y2="344.2" stroke="#000" stroke-width="1.6" stroke-linecap="butt"/>
<line x1="301.8" y1="328.5" x2="307" y2="328.5" stroke="#000" stroke-width="1.6" stroke-linecap="butt"/>
<line x1="301.8" y1="344.2" x2="307" y2="344.2" stroke="#000" stroke-width="1.6" stroke-linecap="butt"/>
<rect x="299.9" y="333" width="9.4" height="10" fill="#cc42f2" stroke="#000" stroke-width="1.6"/>
<line x1="299.9" y1="342.4" x2="309.3" y2="342.4" stroke="#000" stroke-width="1.6" stroke-linecap="butt"/>
<line x1="322" y1="339.8" x2="322" y2="342" stroke="#000" stroke-width="1.6" stroke-linecap="butt"/>
<line x1="322" y1="345.8" x2="322" y2="347.2" stroke="#000" stroke-width="1.6" stroke-linecap="butt"/>
<line x1="319.2" y1="339.8" x2="324.7" y2="339.8" stroke="#000" stroke-width="1.6" stroke-linecap="butt"/>
<line x1="319.2" y1="347.2" x2="324.7" y2="347.2" stroke="#000" stroke-width="1.6" stroke-linecap="butt"/>
<rect x="317" y="342" width="10" height="3.8" fill="#40e8f2" stroke="#000" stroke-width="1.6"/>
<line x1="317" y1="345.8" x2="327" y2="345.8" stroke="#000" stroke-width="1.6" stroke-linecap="butt"/>
<line x1="339.1" y1="327.6" x2="339.1" y2="328.8" stroke="#000" stroke-width="1.6" stroke-linecap="butt"/>
<line x1="339.1" y1="332.4" x2="339.1" y2="333.6" stroke="#000" stroke-width="1.6" stroke-linecap="butt"/>
<line x1="336.9" y1="327.6" x2="342" y2="327.6" stroke="#000" stroke-width="1.6" stroke-linecap="butt"/>
<line x1="336.9" y1="333.6" x2="342" y2="333.6" stroke="#000" stroke-width="1.6" stroke-linecap="butt"/>
<rect x="334.1" y="328.8" width="10" height="3.6" fill="#40f440" stroke="#000" stroke-width="1.6"/>
<line x1="334.1" y1="328.8" x2="344.1" y2="328.8" stroke="#000" stroke-width="1.6" stroke-linecap="butt"/>
<line x1="251.4" y1="224" x2="339.6" y2="224" stroke="#5e5e5e" stroke-width="0.9" stroke-linecap="butt"/>
<line x1="251.4" y1="222.9" x2="251.4" y2="225.1" stroke="#5e5e5e" stroke-width="0.9" stroke-linecap="butt"/>
<line x1="339.6" y1="222.9" x2="339.6" y2="225.1" stroke="#5e5e5e" stroke-width="0.9" stroke-linecap="butt"/>
<path d="M291.7 214.65V218.75M289.2 215.67L294.2 217.72M289.2 217.72L294.2 215.67" stroke="#111" stroke-width="1.2" stroke-linecap="round" fill="none"/>
<path d="M299.9 214.65V218.75M297.4 215.67L302.4 217.72M297.4 217.72L302.4 215.67" stroke="#111" stroke-width="1.2" stroke-linecap="round" fill="none"/>
<line x1="249.4" y1="236" x2="289.6" y2="236" stroke="#5e5e5e" stroke-width="0.9" stroke-linecap="butt"/>
<line x1="249.4" y1="234.9" x2="249.4" y2="237.1" stroke="#5e5e5e" stroke-width="0.9" stroke-linecap="butt"/>
<line x1="289.6" y1="234.9" x2="289.6" y2="237.1" stroke="#5e5e5e" stroke-width="0.9" stroke-linecap="butt"/>
<path d="M261.5 226.85V231.35M259 227.97L264 230.22M259 230.22L264 227.97" stroke="#111" stroke-width="1.2" stroke-linecap="round" fill="none"/>
<path d="M269.9 226.85V231.35M267.4 227.97L272.4 230.22M267.4 230.22L272.4 227.97" stroke="#111" stroke-width="1.2" stroke-linecap="round" fill="none"/>
<path d="M278.3 226.85V231.35M275.8 227.97L280.8 230.22M275.8 230.22L280.8 227.97" stroke="#111" stroke-width="1.2" stroke-linecap="round" fill="none"/>
<line x1="275.3" y1="248.8" x2="294.8" y2="248.8" stroke="#5e5e5e" stroke-width="0.9" stroke-linecap="butt"/>
<line x1="275.3" y1="247.7" x2="275.3" y2="249.9" stroke="#5e5e5e" stroke-width="0.9" stroke-linecap="butt"/>
<line x1="294.8" y1="247.7" x2="294.8" y2="249.9" stroke="#5e5e5e" stroke-width="0.9" stroke-linecap="butt"/>
<path d="M276.7 239.25V243.75M274.2 240.38L279.2 242.62M274.2 242.62L279.2 240.38" stroke="#111" stroke-width="1.2" stroke-linecap="round" fill="none"/>
<path d="M285.1 239.25V243.75M282.6 240.38L287.6 242.62M282.6 242.62L287.6 240.38" stroke="#111" stroke-width="1.2" stroke-linecap="round" fill="none"/>
<path d="M293.5 239.25V243.75M291 240.38L296 242.62M291 242.62L296 240.38" stroke="#111" stroke-width="1.2" stroke-linecap="round" fill="none"/>
<line x1="275.3" y1="252.5" x2="340.5" y2="252.5" stroke="#5e5e5e" stroke-width="0.9" stroke-linecap="butt"/>
<line x1="275.3" y1="251.4" x2="275.3" y2="253.6" stroke="#5e5e5e" stroke-width="0.9" stroke-linecap="butt"/>
<line x1="340.5" y1="251.4" x2="340.5" y2="253.6" stroke="#5e5e5e" stroke-width="0.9" stroke-linecap="butt"/>
<path d="M308 243.05V247.55M305.5 244.18L310.5 246.43M305.5 246.43L310.5 244.18" stroke="#111" stroke-width="1.2" stroke-linecap="round" fill="none"/>
<line x1="285" y1="264" x2="338" y2="264" stroke="#5e5e5e" stroke-width="0.9" stroke-linecap="butt"/>
<line x1="285" y1="262.9" x2="285" y2="265.1" stroke="#5e5e5e" stroke-width="0.9" stroke-linecap="butt"/>
<line x1="338" y1="262.9" x2="338" y2="265.1" stroke="#5e5e5e" stroke-width="0.9" stroke-linecap="butt"/>
<path d="M307.3 254.15V258.85M304.8 255.32L309.8 257.68M304.8 257.68L309.8 255.32" stroke="#111" stroke-width="1.2" stroke-linecap="round" fill="none"/>
<path d="M315.8 254.15V258.85M313.3 255.32L318.3 257.68M313.3 257.68L318.3 255.32" stroke="#111" stroke-width="1.2" stroke-linecap="round" fill="none"/>
<line x1="286.2" y1="276" x2="320.9" y2="276" stroke="#5e5e5e" stroke-width="0.9" stroke-linecap="butt"/>
<line x1="286.2" y1="274.9" x2="286.2" y2="277.1" stroke="#5e5e5e" stroke-width="0.9" stroke-linecap="butt"/>
<line x1="320.9" y1="274.9" x2="320.9" y2="277.1" stroke="#5e5e5e" stroke-width="0.9" stroke-linecap="butt"/>
<path d="M295 266.45V271.15M292.5 267.62L297.5 269.97M292.5 269.97L297.5 267.62" stroke="#111" stroke-width="1.2" stroke-linecap="round" fill="none"/>
<path d="M303.5 266.45V271.15M301 267.62L306 269.97M301 269.97L306 267.62" stroke="#111" stroke-width="1.2" stroke-linecap="round" fill="none"/>
<path d="M312 266.45V271.15M309.5 267.62L314.5 269.97M309.5 269.97L314.5 267.62" stroke="#111" stroke-width="1.2" stroke-linecap="round" fill="none"/>
<line x1="287" y1="289.1" x2="305" y2="289.1" stroke="#5e5e5e" stroke-width="0.9" stroke-linecap="butt"/>
<line x1="287" y1="288" x2="287" y2="290.2" stroke="#5e5e5e" stroke-width="0.9" stroke-linecap="butt"/>
<line x1="305" y1="288" x2="305" y2="290.2" stroke="#5e5e5e" stroke-width="0.9" stroke-linecap="butt"/>
<path d="M287.3 279.25V284.25M284.8 280.5L289.8 283M284.8 283L289.8 280.5" stroke="#111" stroke-width="1.2" stroke-linecap="round" fill="none"/>
<path d="M296 279.25V284.25M293.5 280.5L298.5 283M293.5 283L298.5 280.5" stroke="#111" stroke-width="1.2" stroke-linecap="round" fill="none"/>
<path d="M304.7 279.25V284.25M302.2 280.5L307.2 283M302.2 283L307.2 280.5" stroke="#111" stroke-width="1.2" stroke-linecap="round" fill="none"/>
<text class="sb" transform="translate(211.25 375.37) rotate(-90) scale(0.9660 1)" font-family="Liberation Sans" font-weight="bold" font-size="8">Luteinizing hormone (IU/ML)</text>
<text class="sb" transform="translate(253.1 380.6) scale(1.2000 1) rotate(-45) scale(1.0000 1) translate(-25.79 0)" font-family="Liberation Sans" font-weight="bold" font-size="7.4">Control</text>
<text class="sb" transform="translate(270.6 380.6) scale(1.2000 1) rotate(-45) scale(1.0000 1) translate(-28.38 0)" font-family="Liberation Sans" font-weight="bold" font-size="7.4">TG + LC</text>
<text class="sb" transform="translate(287.8 380.6) scale(1.2000 1) rotate(-45) scale(1.0000 1) translate(-9.8 0)" font-family="Liberation Sans" font-weight="bold" font-size="7.4">TG</text>
<text class="sb" transform="translate(305.1 380.6) scale(1.2000 1) rotate(-45) scale(1.0000 1) translate(-41.9 0)" font-family="Liberation Sans" font-weight="bold" font-size="7.4">TG + CGA-L</text>
<text class="sb" transform="translate(322.6 380.6) scale(1.2000 1) rotate(-45) scale(1.0000 1) translate(-41.22 0)" font-family="Liberation Sans" font-weight="bold" font-size="7.4">TG +CGA-M</text>
<text class="sb" transform="translate(339.6 380.6) scale(1.2000 1) rotate(-45) scale(1.0000 1) translate(-42.46 0)" font-family="Liberation Sans" font-weight="bold" font-size="7.4">TG + CGA-H</text>
<text class="fr" transform="translate(270.65 432.45) scale(1.0604 1)" font-family="Liberation Serif" font-weight="normal" font-size="10.38">(E)</text>
<line x1="437.6" y1="241.55" x2="437.6" y2="352.35" stroke="#000" stroke-width="1.5" stroke-linecap="butt"/>
<line x1="433.3" y1="242.3" x2="437.6" y2="242.3" stroke="#000" stroke-width="1.5" stroke-linecap="butt"/>
<line x1="433.3" y1="269.63" x2="437.6" y2="269.63" stroke="#000" stroke-width="1.5" stroke-linecap="butt"/>
<line x1="433.3" y1="296.96" x2="437.6" y2="296.96" stroke="#000" stroke-width="1.5" stroke-linecap="butt"/>
<line x1="433.3" y1="324.29" x2="437.6" y2="324.29" stroke="#000" stroke-width="1.5" stroke-linecap="butt"/>
<line x1="433.3" y1="351.62" x2="437.6" y2="351.62" stroke="#000" stroke-width="1.5" stroke-linecap="butt"/>
<line x1="436.9" y1="351.6" x2="544.9" y2="351.6" stroke="#000" stroke-width="1.4" stroke-linecap="butt"/>
<line x1="449" y1="351.6" x2="449" y2="355.8" stroke="#000" stroke-width="1.4" stroke-linecap="butt"/>
<line x1="466.5" y1="351.6" x2="466.5" y2="355.8" stroke="#000" stroke-width="1.4" stroke-linecap="butt"/>
<line x1="483.8" y1="351.6" x2="483.8" y2="355.8" stroke="#000" stroke-width="1.4" stroke-linecap="butt"/>
<line x1="501.1" y1="351.6" x2="501.1" y2="355.8" stroke="#000" stroke-width="1.4" stroke-linecap="butt"/>
<line x1="518.2" y1="351.6" x2="518.2" y2="355.8" stroke="#000" stroke-width="1.4" stroke-linecap="butt"/>
<line x1="535.5" y1="351.6" x2="535.5" y2="355.8" stroke="#000" stroke-width="1.4" stroke-linecap="butt"/>
<text class="sb" transform="translate(420.93 245.36) scale(1.1512 1)" font-family="Liberation Sans" font-weight="bold" font-size="8.62">20</text>
<text class="sb" transform="translate(420.81 272.69) scale(1.1512 1)" font-family="Liberation Sans" font-weight="bold" font-size="8.62">15</text>
<text class="sb" transform="translate(420.93 300.02) scale(1.1512 1)" font-family="Liberation Sans" font-weight="bold" font-size="8.62">10</text>
<text class="sb" transform="translate(426.31 327.35) scale(1.1512 1)" font-family="Liberation Sans" font-weight="bold" font-size="8.62">5</text>
<text class="sb" transform="translate(426.44 354.68) scale(1.1512 1)" font-family="Liberation Sans" font-weight="bold" font-size="8.62">0</text>
<line x1="449.4" y1="280.2" x2="449.4" y2="281.4" stroke="#000" stroke-width="1.6" stroke-linecap="butt"/>
<line x1="449.4" y1="292" x2="449.4" y2="294.9" stroke="#000" stroke-width="1.6" stroke-linecap="butt"/>
<line x1="447.1" y1="280.2" x2="452.7" y2="280.2" stroke="#000" stroke-width="1.6" stroke-linecap="butt"/>
<line x1="447.1" y1="294.9" x2="452.7" y2="294.9" stroke="#000" stroke-width="1.6" stroke-linecap="butt"/>
<rect x="444.7" y="281.4" width="9.4" height="10.6" fill="#3e3ef8" stroke="#000" stroke-width="1.6"/>
<line x1="444.7" y1="289.3" x2="454.1" y2="289.3" stroke="#000" stroke-width="1.6" stroke-linecap="butt"/>
<line x1="466.45" y1="255.4" x2="466.45" y2="260" stroke="#000" stroke-width="1.6" stroke-linecap="butt"/>
<line x1="463.9" y1="255.4" x2="468.6" y2="255.4" stroke="#000" stroke-width="1.6" stroke-linecap="butt"/>
<line x1="463.9" y1="267.7" x2="468.6" y2="267.7" stroke="#000" stroke-width="1.6" stroke-linecap="butt"/>
<rect x="461.8" y="260" width="9.3" height="6.9" fill="#f6fc00" stroke="#000" stroke-width="1.6"/>
<line x1="461.8" y1="263.5" x2="471.1" y2="263.5" stroke="#000" stroke-width="1.6" stroke-linecap="butt"/>
<line x1="483.55" y1="261.4" x2="483.55" y2="264.1" stroke="#000" stroke-width="1.6" stroke-linecap="butt"/>
<line x1="483.55" y1="302.4" x2="483.55" y2="305.9" stroke="#000" stroke-width="1.6" stroke-linecap="butt"/>
<line x1="481.4" y1="261.4" x2="486.2" y2="261.4" stroke="#000" stroke-width="1.6" stroke-linecap="butt"/>
<line x1="481.4" y1="305.9" x2="486.2" y2="305.9" stroke="#000" stroke-width="1.6" stroke-linecap="butt"/>
<rect x="479" y="264.1" width="9.1" height="38.3" fill="#f83c40" stroke="#000" stroke-width="1.6"/>
<line x1="479" y1="299.5" x2="488.1" y2="299.5" stroke="#000" stroke-width="1.6" stroke-linecap="butt"/>
<line x1="500.95" y1="261" x2="500.95" y2="265.5" stroke="#000" stroke-width="1.6" stroke-linecap="butt"/>
<line x1="500.95" y1="269.8" x2="500.95" y2="272.8" stroke="#000" stroke-width="1.6" stroke-linecap="butt"/>
<line x1="498.3" y1="261" x2="503.5" y2="261" stroke="#000" stroke-width="1.6" stroke-linecap="butt"/>
<line x1="498.3" y1="272.8" x2="503.5" y2="272.8" stroke="#000" stroke-width="1.6" stroke-linecap="butt"/>
<rect x="496.2" y="265.5" width="9.5" height="4.3" fill="#cc42f2" stroke="#000" stroke-width="1.6"/>
<line x1="496.2" y1="267.7" x2="505.7" y2="267.7" stroke="#000" stroke-width="1.6" stroke-linecap="butt"/>
<line x1="518.1" y1="268.6" x2="518.1" y2="270.7" stroke="#000" stroke-width="1.6" stroke-linecap="butt"/>
<line x1="518.1" y1="274.9" x2="518.1" y2="279.6" stroke="#000" stroke-width="1.6" stroke-linecap="butt"/>
<line x1="515.2" y1="268.6" x2="520.7" y2="268.6" stroke="#000" stroke-width="1.6" stroke-linecap="butt"/>
<line x1="515.2" y1="279.6" x2="520.7" y2="279.6" stroke="#000" stroke-width="1.6" stroke-linecap="butt"/>
<rect x="513.1" y="270.7" width="10" height="4.2" fill="#28aaa2" stroke="#000" stroke-width="1.6"/>
<line x1="513.1" y1="272.2" x2="523.1" y2="272.2" stroke="#000" stroke-width="1.6" stroke-linecap="butt"/>
<line x1="535.35" y1="258.3" x2="535.35" y2="261.1" stroke="#000" stroke-width="1.6" stroke-linecap="butt"/>
<line x1="535.35" y1="270.1" x2="535.35" y2="271.7" stroke="#000" stroke-width="1.6" stroke-linecap="butt"/>
<line x1="532.7" y1="258.3" x2="537.9" y2="258.3" stroke="#000" stroke-width="1.6" stroke-linecap="butt"/>
<line x1="532.7" y1="271.7" x2="537.9" y2="271.7" stroke="#000" stroke-width="1.6" stroke-linecap="butt"/>
<rect x="530.7" y="261.1" width="9.3" height="9" fill="#40f440" stroke="#000" stroke-width="1.6"/>
<line x1="530.7" y1="265.7" x2="540" y2="265.7" stroke="#000" stroke-width="1.6" stroke-linecap="butt"/>
<line x1="449.4" y1="233" x2="536" y2="233" stroke="#5e5e5e" stroke-width="0.9" stroke-linecap="butt"/>
<line x1="449.4" y1="231.9" x2="449.4" y2="234.1" stroke="#5e5e5e" stroke-width="0.9" stroke-linecap="butt"/>
<line x1="536" y1="231.9" x2="536" y2="234.1" stroke="#5e5e5e" stroke-width="0.9" stroke-linecap="butt"/>
<path d="M492.3 223.2V228.2M490.3 224.45L494.3 226.95M490.3 226.95L494.3 224.45" stroke="#111" stroke-width="1.3" stroke-linecap="round" fill="none"/>
<line x1="445.2" y1="251.4" x2="483.8" y2="251.4" stroke="#5e5e5e" stroke-width="0.9" stroke-linecap="butt"/>
<line x1="445.2" y1="250.3" x2="445.2" y2="252.5" stroke="#5e5e5e" stroke-width="0.9" stroke-linecap="butt"/>
<line x1="483.8" y1="250.3" x2="483.8" y2="252.5" stroke="#5e5e5e" stroke-width="0.9" stroke-linecap="butt"/>
<line x1="466.3" y1="250.3" x2="466.3" y2="252.5" stroke="#5e5e5e" stroke-width="0.9" stroke-linecap="butt"/>
<path d="M455.8 242.2V246.2M453.8 243.2L457.8 245.2M453.8 245.2L457.8 243.2" stroke="#111" stroke-width="1.3" stroke-linecap="round" fill="none"/>
<path d="M474.8 242.2V246.2M472.8 243.2L476.8 245.2M472.8 245.2L476.8 243.2" stroke="#111" stroke-width="1.3" stroke-linecap="round" fill="none"/>
<line x1="483.6" y1="254.3" x2="535.5" y2="254.3" stroke="#5e5e5e" stroke-width="0.9" stroke-linecap="butt"/>
<line x1="483.6" y1="253.2" x2="483.6" y2="255.4" stroke="#5e5e5e" stroke-width="0.9" stroke-linecap="butt"/>
<line x1="535.5" y1="253.2" x2="535.5" y2="255.4" stroke="#5e5e5e" stroke-width="0.9" stroke-linecap="butt"/>
<path d="M509.3 244.6V249.2M507.3 245.75L511.3 248.05M507.3 248.05L511.3 245.75" stroke="#111" stroke-width="1.3" stroke-linecap="round" fill="none"/>
<text class="sb" transform="translate(403.15 356.13) rotate(-90) scale(1.3226 1)" font-family="Liberation Sans" font-weight="bold" font-size="6.55">Follicle Stimulating Hormone</text>
<text class="sb" transform="translate(413.55 305.68) rotate(-90) scale(1.2572 1)" font-family="Liberation Sans" font-weight="bold" font-size="6.84">(IU/L)</text>
<text class="sb" transform="translate(450.2 364.5) scale(1.0000 1) rotate(-45) scale(1.1500 1) translate(-27.88 0)" font-family="Liberation Sans" font-weight="bold" font-size="8">Control</text>
<text class="sb" transform="translate(467.7 364.5) scale(1.0000 1) rotate(-45) scale(1.1500 1) translate(-30.68 0)" font-family="Liberation Sans" font-weight="bold" font-size="8">TG + LC</text>
<text class="sb" transform="translate(485 364.5) scale(1.0000 1) rotate(-45) scale(1.1500 1) translate(-10.6 0)" font-family="Liberation Sans" font-weight="bold" font-size="8">TG</text>
<text class="sb" transform="translate(502.3 364.5) scale(1.0000 1) rotate(-45) scale(1.1500 1) translate(-45.3 0)" font-family="Liberation Sans" font-weight="bold" font-size="8">TG + CGA-L</text>
<text class="sb" transform="translate(519.4 364.5) scale(1.0000 1) rotate(-45) scale(1.1500 1) translate(-44.56 0)" font-family="Liberation Sans" font-weight="bold" font-size="8">TG +CGA-M</text>
<text class="sb" transform="translate(536.7 364.5) scale(1.0000 1) rotate(-45) scale(1.1500 1) translate(-45.9 0)" font-family="Liberation Sans" font-weight="bold" font-size="8">TG + CGA-H</text>
<text class="fb" transform="translate(459.4 432.45) scale(0.9573 1)" font-family="Liberation Serif" font-weight="bold" font-size="10.53">(F)</text>
</svg>
</body></html>
